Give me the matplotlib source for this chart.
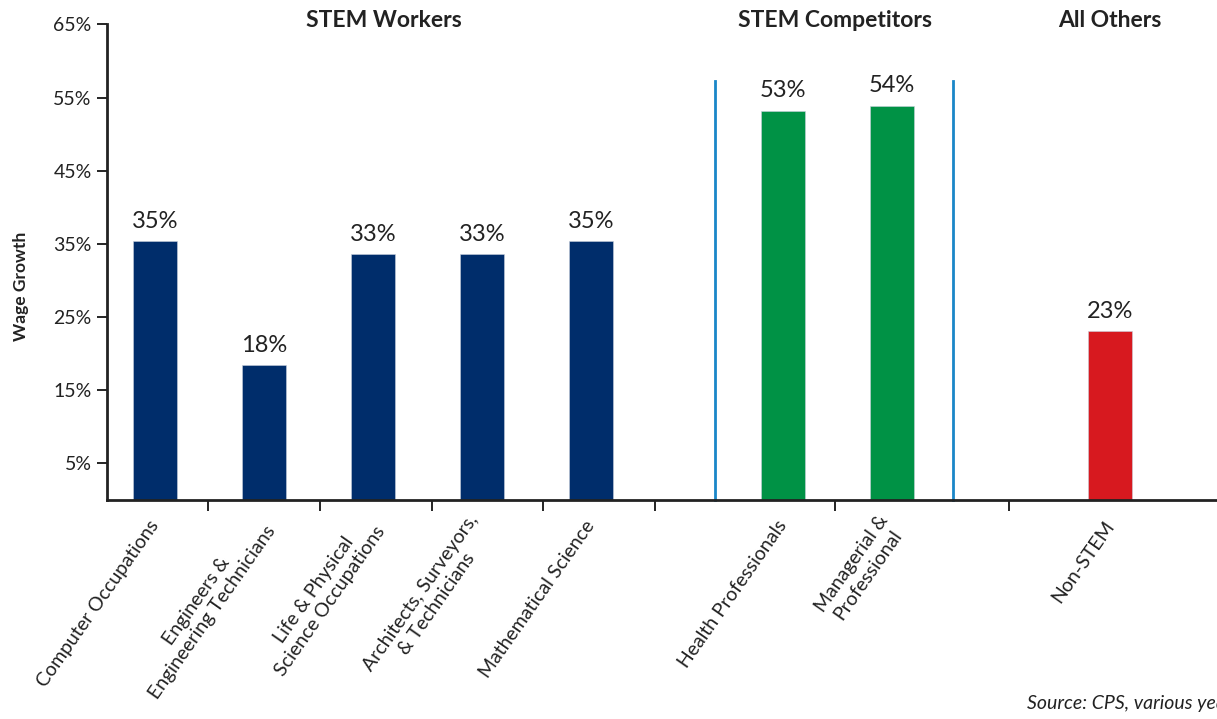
import matplotlib
matplotlib.use("Agg")
import matplotlib.pyplot as plt

plt.rcParams["font.family"] = ["Lato", "DejaVu Sans"]

# data
categories = [
    "Computer Occupations",
    "Engineers &\nEngineering Technicians",
    "Life & Physical\nScience Occupations",
    "Architects, Surveyors,\n& Technicians",
    "Mathematical Science",
    "Health Professionals",
    "Managerial &\nProfessional",
    "Non-STEM",
]
wage_growth = [35.4, 18.4, 33.6, 33.6, 35.4, 53.2, 53.9, 23.1]
value_labels = ["35%", "18%", "33%", "33%", "35%", "53%", "54%", "23%"]
positions = [0, 1, 2, 3, 4, 5.76, 6.76, 8.76]
bar_colors = ["#002d6b"] * 5 + ["#009245"] * 2 + ["#d7191f"]

divider_ticks = [0.49, 1.51, 2.54, 3.56, 4.59, 6.24, 7.83]
separators = [5.14, 7.32]
separator_top = 57.3

groups = ["STEM Workers", "STEM Competitors", "All Others"]
group_x = [2.1, 6.24, 8.76]

y_ticks = [5, 15, 25, 35, 45, 55, 65]

fig = plt.figure(figsize=(12.17, 7.19), dpi=100)
ax = fig.add_axes([107 / 1217, 1 - 500 / 719, 1 - 107 / 1217, 475.5 / 719])

ax.bar(positions, wage_growth, width=0.40, color=bar_colors, edgecolor="#c8d0dc", linewidth=0.4)
for x, v, t in zip(positions, wage_growth, value_labels):
    ax.text(x, v + 1.3, t, ha="center", va="bottom", fontsize=17, color="#222222")

for s in separators:
    ax.plot([s, s], [0, separator_top], color="#1a86c8", linewidth=2, clip_on=False)

for g, gx in zip(groups, group_x):
    ax.text(gx, 65.6, g, ha="center", va="center", fontsize=16.5, fontweight="bold",
            color="#222222", clip_on=False)

ax.set_xlim(-0.44, 9.74)
ax.set_ylim(0, 65)
ax.set_yticks(y_ticks)
ax.set_yticklabels([f"{t}%" for t in y_ticks], fontsize=14, color="#222222")
ax.tick_params(axis="y", direction="out", length=7, width=1.2, pad=4)

ax.set_xticks(positions)
ax.set_xticklabels(categories, rotation=55, ha="right", va="center", rotation_mode="anchor",
                   fontsize=14, color="#222222", multialignment="center")
ax.tick_params(axis="x", which="major", length=0, pad=16)
ax.set_xticks(divider_ticks, minor=True)
ax.tick_params(axis="x", which="minor", direction="out", length=8, width=1.2)

ax.set_ylabel("Wage Growth", fontsize=12.5, fontweight="bold", color="#222222")
ax.yaxis.set_label_coords(-0.07, 0.45)

for side in ["top", "right"]:
    ax.spines[side].set_visible(False)
for side in ["left", "bottom"]:
    ax.spines[side].set_linewidth(2)
    ax.spines[side].set_color("#222222")

fig.text(1027 / 1217, 1 - 703 / 719, "Source: CPS, various years", fontsize=14,
         style="italic", color="#222222", ha="left", va="center")

fig.savefig("out.png", dpi=100)
